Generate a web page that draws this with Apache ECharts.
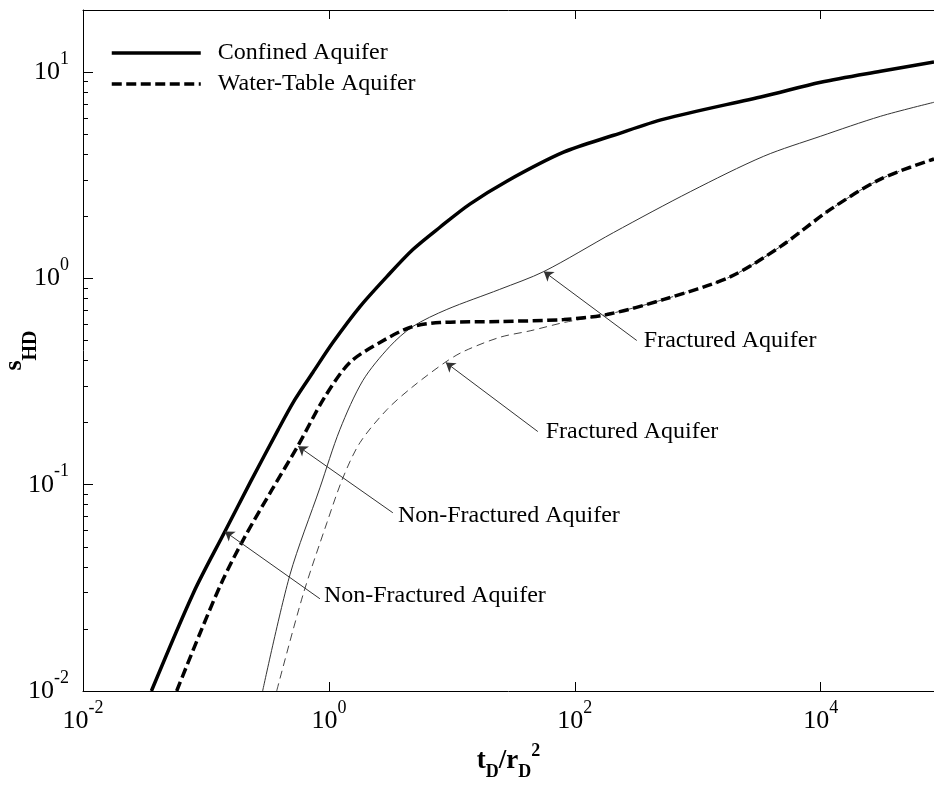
<!DOCTYPE html>
<html>
<head>
<meta charset="utf-8">
<title>s_HD vs t_D/r_D^2</title>
<script src="https://cdn.jsdelivr.net/npm/echarts@6/dist/echarts.min.js"></script>
<style>
  html, body { margin: 0; padding: 0; background: #fff; }
  #chart { width: 934px; height: 787px; }
</style>
</head>
<body>
<div id="chart"></div>
<script>
// values (t_D/r_D^2 , s_HD)
const confinedX = [0.036, 0.0789, 0.1426, 0.228, 0.387, 0.53, 0.74, 1.08, 1.79, 2.96, 4.82, 8.0, 14, 28, 81, 207, 530, 3440, 10000, 30700, 83400];
const confinedY = [0.01, 0.0298, 0.0593, 0.102, 0.185, 0.259, 0.35, 0.49, 0.73, 1.02, 1.38, 1.77, 2.29, 2.96, 4.09, 4.94, 5.92, 7.64, 8.93, 10.1, 11.2];

const confinedFracX = [0.289, 0.482, 0.845, 1.228, 1.89, 3.13, 4.82, 9.1, 24.5, 56, 207, 877, 3440, 10000, 30700, 83400];
const confinedFracY = [0.01, 0.0366, 0.0966, 0.185, 0.32, 0.468, 0.585, 0.707, 0.885, 1.08, 1.67, 2.64, 3.91, 4.89, 6.11, 7.14];

const waterTableX = [0.0578, 0.0893, 0.1374, 0.2075, 0.3443, 0.56, 0.928, 1.48, 2.6, 4.56, 7.98, 24.5, 81.4, 182, 530, 1850, 4730, 12000, 30700, 83400];
const waterTableY = [0.01, 0.019, 0.0346, 0.056, 0.0946, 0.1545, 0.267, 0.391, 0.489, 0.578, 0.611, 0.618, 0.632, 0.668, 0.791, 1.02, 1.43, 2.16, 3.03, 3.79];

const waterTableFracX = [0.376, 0.615, 0.964, 1.3, 1.79, 2.96, 4.82, 8.77, 12.5, 24.5, 43.9, 81.4, 182, 530, 1850, 4730, 12000, 30700, 83400];
const waterTableFracY = [0.01, 0.0292, 0.0655, 0.108, 0.16, 0.231, 0.299, 0.391, 0.443, 0.518, 0.558, 0.611, 0.668, 0.791, 1.02, 1.43, 2.16, 3.03, 3.79];

// axes
const xMin = 0.01, xMax = 83400;
const yMin = 0.01, yMax = 20;
const xTicks = [0.01, 1, 100, 10000];
const yTicks = [0.01, 0.1, 1, 10];
const yMinorTicks = [0.02, 0.03, 0.04, 0.05, 0.06, 0.07, 0.08, 0.09,
  0.2, 0.3, 0.4, 0.5, 0.6, 0.7, 0.8, 0.9,
  2, 3, 4, 5, 6, 7, 8, 9];

// annotations: label, arrow tail, arrow tip, label anchor
const annotTexts = ['Fractured Aquifer', 'Fractured Aquifer', 'Non-Fractured Aquifer', 'Non-Fractured Aquifer'];
const annotTails = [[319, 0.5], [50, 0.181], [3.31, 0.0731], [0.845, 0.028]];
const annotTips = [[56, 1.08], [8.93, 0.391], [0.5623, 0.1535], [0.1426, 0.0593]];
const annotTextAt = [[364, 0.5], [58, 0.181], [3.64, 0.0708], [0.91, 0.0289]];

const serif = "'Liberation Serif', 'Times New Roman', serif";
const pairs = (xs, ys) => xs.map((x, i) => [x, ys[i]]);

const isTick = (list, v) => list.some(t => Math.abs(t - v) / t < 1e-6);

const tickRich = {
  b: { fontFamily: serif, fontSize: 26, lineHeight: 44, color: '#000' },
  s: { fontFamily: serif, fontSize: 18, lineHeight: 18, verticalAlign: 'top', color: '#000' }
};

function powLabel(list) {
  return function (value) {
    if (!isTick(list, value)) return '';
    const e = Math.round(Math.log10(value));
    return '{b|10}{s|' + e + '}';
  };
}

const chart = echarts.init(document.getElementById('chart'));

const option = {
  animation: false,
  backgroundColor: '#fff',
  grid: { left: 83, right: 0, top: 10, bottom: 96, containLabel: false, outerBoundsMode: 'none' },
  legend: {
    data: ['Confined Aquifer', 'Water-Table Aquifer'],
    orient: 'vertical',
    left: 105,
    top: 35,
    itemWidth: 89,
    itemHeight: 14,
    itemGap: 5,
    selectedMode: false,
    itemStyle: { opacity: 0 },
    lineStyle: { width: 3.5 },
    textStyle: { fontFamily: serif, fontSize: 24, lineHeight: 26, color: '#000', padding: [0, 0, 0, 12] }
  },
  xAxis: [
    {
      type: 'log',
      logBase: 10,
      min: xMin,
      max: xMax,
      position: 'bottom',
      axisLine: { onZero: false, lineStyle: { color: '#000', width: 1 } },
      axisTick: { inside: true, length: 9, customValues: xTicks, lineStyle: { color: '#000' } },
      axisLabel: { customValues: xTicks, margin: 8, formatter: powLabel(xTicks), rich: tickRich },
      splitLine: { show: false },
      name: '{m|t}{d|D}{m|/r}{d|D}{u|2}',
      nameLocation: 'middle',
      nameGap: 51,
      nameMoveOverlap: false,
      nameTextStyle: {
        fontFamily: serif,
        fontWeight: 'bold',
        color: '#000',
        rich: {
          m: { fontFamily: serif, fontWeight: 'bold', fontSize: 27, lineHeight: 39, color: '#000' },
          d: { fontFamily: serif, fontWeight: 'bold', fontSize: 18, lineHeight: 18, verticalAlign: 'bottom', color: '#000' },
          u: { fontFamily: serif, fontWeight: 'bold', fontSize: 18, lineHeight: 18, verticalAlign: 'top', color: '#000' }
        }
      }
    },
    {
      type: 'log',
      logBase: 10,
      min: xMin,
      max: xMax,
      position: 'top',
      axisLine: { onZero: false, lineStyle: { color: '#000', width: 1 } },
      axisTick: { inside: true, length: 9, customValues: xTicks, lineStyle: { color: '#000' } },
      axisLabel: { show: false },
      splitLine: { show: false }
    }
  ],
  yAxis: [
    {
      type: 'log',
      logBase: 10,
      min: yMin,
      max: yMax,
      position: 'left',
      axisLine: { onZero: false, lineStyle: { color: '#000', width: 1 } },
      axisTick: { inside: true, length: 10, customValues: yTicks, lineStyle: { color: '#000' } },
      axisLabel: { customValues: yTicks, margin: 14, formatter: powLabel(yTicks), rich: tickRich },
      splitLine: { show: false },
      name: '{m|s}{d|HD}',
      nameLocation: 'middle',
      nameGap: 42,
      nameMoveOverlap: false,
      nameTextStyle: {
        fontFamily: serif,
        fontWeight: 'bold',
        color: '#000',
        rich: {
          m: { fontFamily: serif, fontWeight: 'bold', fontSize: 26, lineHeight: 54, color: '#000' },
          d: { fontFamily: serif, fontWeight: 'bold', fontSize: 20, lineHeight: 20, verticalAlign: 'bottom', color: '#000' }
        }
      }
    },
    {
      // minor ticks only
      type: 'log',
      logBase: 10,
      min: yMin,
      max: yMax,
      position: 'left',
      axisLine: { show: false },
      axisTick: { inside: true, length: 5, customValues: yMinorTicks, lineStyle: { color: '#000' } },
      axisLabel: { show: false },
      splitLine: { show: false }
    }
  ],
  series: [
    {
      name: 'Confined Aquifer (fractured)',
      type: 'line',
      data: pairs(confinedFracX, confinedFracY),
      symbol: 'none',
      smooth: 0.3,
      silent: true,
      lineStyle: { color: '#333', width: 1 },
      z: 2,
      markLine: {
        silent: true,
        animation: false,
        symbol: ['none', 'arrow'],
        symbolSize: 9,
        lineStyle: { color: '#333', width: 1, type: 'solid' },
        label: { show: false },
        emphasis: { disabled: true },
        data: annotTails.map((t, i) => [{ coord: t }, { coord: annotTips[i] }])
      },
      markPoint: {
        silent: true,
        animation: false,
        symbol: 'circle',
        symbolSize: 0,
        label: {
          show: true,
          position: 'right',
          distance: 0,
          formatter: '{b}',
          fontFamily: serif,
          fontSize: 24,
          color: '#000'
        },
        data: annotTexts.map((name, i) => ({ name: name, coord: annotTextAt[i] }))
      }
    },
    {
      name: 'Water-Table Aquifer (fractured)',
      type: 'line',
      data: pairs(waterTableFracX, waterTableFracY),
      symbol: 'none',
      smooth: 0.3,
      silent: true,
      lineStyle: { color: '#444', width: 1, type: [8, 5] },
      z: 2
    },
    {
      name: 'Confined Aquifer',
      type: 'line',
      data: pairs(confinedX, confinedY),
      symbol: 'none',
      smooth: 0.3,
      silent: true,
      lineStyle: { color: '#000', width: 3.5 },
      z: 3
    },
    {
      name: 'Water-Table Aquifer',
      type: 'line',
      data: pairs(waterTableX, waterTableY),
      symbol: 'none',
      smooth: 0.3,
      silent: true,
      lineStyle: { color: '#000', width: 3.5, type: [10, 4.5], cap: 'butt' },
      z: 3
    }
  ]
};

chart.setOption(option);
</script>
</body>
</html>
